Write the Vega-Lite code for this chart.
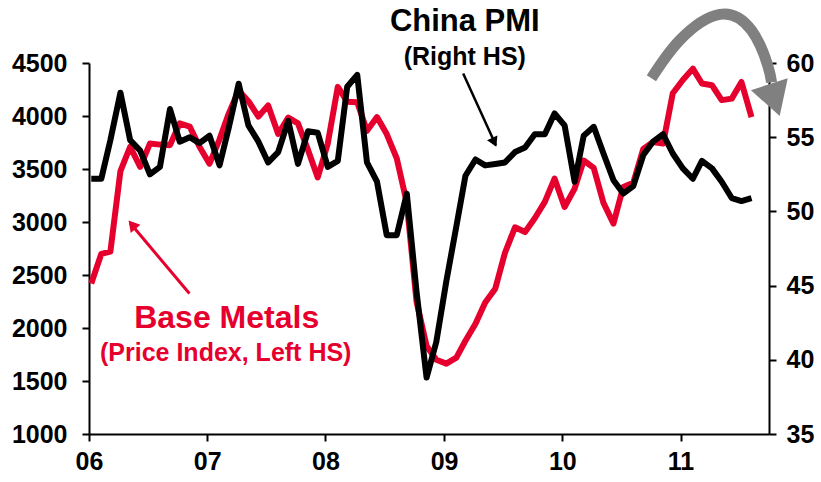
{
  "$schema": "https://vega.github.io/schema/vega-lite/v6.json",
  "width": 680,
  "height": 371,
  "autosize": {"type": "none"},
  "padding": {"left": 89, "top": 63, "right": 52, "bottom": 48},
  "background": "white",
  "config": {
    "view": {"stroke": null},
    "axis": {
      "grid": false,
      "labelFont": "Liberation Sans",
      "labelFontWeight": "bold",
      "labelFontSize": 25,
      "labelColor": "#000000",
      "domainColor": "#000000",
      "domainWidth": 2,
      "tickColor": "#000000",
      "tickWidth": 2,
      "tickSize": 7,
      "labelFlush": false,
      "title": null
    }
  },
  "datasets": {
    "series": [
      {"date": "2006-01-08", "metals": 2420, "pmi": 52.2},
      {"date": "2006-02-08", "metals": 2700, "pmi": 52.2},
      {"date": "2006-03-08", "metals": 2720, "pmi": 54.8},
      {"date": "2006-04-08", "metals": 3480, "pmi": 58.0},
      {"date": "2006-05-08", "metals": 3710, "pmi": 54.8},
      {"date": "2006-06-08", "metals": 3520, "pmi": 54.1},
      {"date": "2006-07-08", "metals": 3740, "pmi": 52.5},
      {"date": "2006-08-08", "metals": 3730, "pmi": 53.0},
      {"date": "2006-09-08", "metals": 3725, "pmi": 56.9},
      {"date": "2006-10-08", "metals": 3930, "pmi": 54.7},
      {"date": "2006-11-08", "metals": 3900, "pmi": 55.0},
      {"date": "2006-12-08", "metals": 3710, "pmi": 54.6},
      {"date": "2007-01-08", "metals": 3550, "pmi": 55.1},
      {"date": "2007-02-08", "metals": 3780, "pmi": 53.1},
      {"date": "2007-03-08", "metals": 4020, "pmi": 55.6},
      {"date": "2007-04-08", "metals": 4240, "pmi": 58.6},
      {"date": "2007-05-08", "metals": 4140, "pmi": 55.8},
      {"date": "2007-06-08", "metals": 3995, "pmi": 54.7},
      {"date": "2007-07-08", "metals": 4100, "pmi": 53.3},
      {"date": "2007-08-08", "metals": 3830, "pmi": 54.0},
      {"date": "2007-09-08", "metals": 3985, "pmi": 56.1},
      {"date": "2007-10-08", "metals": 3930, "pmi": 53.2},
      {"date": "2007-11-08", "metals": 3680, "pmi": 55.4},
      {"date": "2007-12-08", "metals": 3420, "pmi": 55.3},
      {"date": "2008-01-08", "metals": 3740, "pmi": 53.0},
      {"date": "2008-02-08", "metals": 4275, "pmi": 53.4},
      {"date": "2008-03-08", "metals": 4135, "pmi": 58.4},
      {"date": "2008-04-08", "metals": 4130, "pmi": 59.2},
      {"date": "2008-05-08", "metals": 3860, "pmi": 53.3},
      {"date": "2008-06-08", "metals": 3990, "pmi": 52.0},
      {"date": "2008-07-08", "metals": 3830, "pmi": 48.4},
      {"date": "2008-08-08", "metals": 3600, "pmi": 48.4},
      {"date": "2008-09-08", "metals": 3180, "pmi": 51.2},
      {"date": "2008-10-08", "metals": 2250, "pmi": 44.6},
      {"date": "2008-11-08", "metals": 1830, "pmi": 38.8},
      {"date": "2008-12-08", "metals": 1700, "pmi": 41.2},
      {"date": "2009-01-08", "metals": 1664, "pmi": 45.3},
      {"date": "2009-02-08", "metals": 1720, "pmi": 49.0},
      {"date": "2009-03-08", "metals": 1880, "pmi": 52.4},
      {"date": "2009-04-08", "metals": 2040, "pmi": 53.5},
      {"date": "2009-05-08", "metals": 2240, "pmi": 53.1},
      {"date": "2009-06-08", "metals": 2370, "pmi": 53.2},
      {"date": "2009-07-08", "metals": 2710, "pmi": 53.3},
      {"date": "2009-08-08", "metals": 2950, "pmi": 54.0},
      {"date": "2009-09-08", "metals": 2905, "pmi": 54.3},
      {"date": "2009-10-08", "metals": 3035, "pmi": 55.2},
      {"date": "2009-11-08", "metals": 3190, "pmi": 55.2},
      {"date": "2009-12-08", "metals": 3410, "pmi": 56.6},
      {"date": "2010-01-08", "metals": 3142, "pmi": 55.8},
      {"date": "2010-02-08", "metals": 3315, "pmi": 52.0},
      {"date": "2010-03-08", "metals": 3580, "pmi": 55.1},
      {"date": "2010-04-08", "metals": 3510, "pmi": 55.7},
      {"date": "2010-05-08", "metals": 3180, "pmi": 53.9},
      {"date": "2010-06-08", "metals": 2985, "pmi": 52.1},
      {"date": "2010-07-08", "metals": 3330, "pmi": 51.2},
      {"date": "2010-08-08", "metals": 3370, "pmi": 51.7},
      {"date": "2010-09-08", "metals": 3690, "pmi": 53.8},
      {"date": "2010-10-08", "metals": 3755, "pmi": 54.7},
      {"date": "2010-11-08", "metals": 3740, "pmi": 55.2},
      {"date": "2010-12-08", "metals": 4215, "pmi": 53.9},
      {"date": "2011-01-08", "metals": 4340, "pmi": 52.9},
      {"date": "2011-02-08", "metals": 4447, "pmi": 52.2},
      {"date": "2011-03-08", "metals": 4306, "pmi": 53.4},
      {"date": "2011-04-08", "metals": 4290, "pmi": 52.9},
      {"date": "2011-05-08", "metals": 4150, "pmi": 52.0},
      {"date": "2011-06-08", "metals": 4164, "pmi": 50.9},
      {"date": "2011-07-08", "metals": 4321, "pmi": 50.7},
      {"date": "2011-08-08", "metals": 3990, "pmi": 50.9}
    ],
    "arc": [
      {"date": "2010-10-03", "value": 4356},
      {"date": "2010-12-29", "value": 4714},
      {"date": "2011-05-02", "value": 4959},
      {"date": "2011-08-08", "value": 4808},
      {"date": "2011-09-27", "value": 4478},
      {"date": "2011-10-09", "value": 4317}
    ]
  },
  "resolve": {"scale": {"y": "independent"}},
  "layer": [
    {
      "data": {"name": "series"},
      "mark": {"type": "line", "color": "#E6002D", "strokeWidth": 6, "strokeJoin": "round"},
      "encoding": {
        "x": {
          "field": "date", "type": "temporal",
          "scale": {"type": "utc", "domain": [{"year": 2006, "month": 1, "date": 1, "utc": true}, {"year": 2011, "month": 10, "date": 1, "utc": true}]},
          "axis": {
            "values": [
              {"year": 2006, "month": 1, "date": 1, "utc": true},
              {"year": 2007, "month": 1, "date": 1, "utc": true},
              {"year": 2008, "month": 1, "date": 1, "utc": true},
              {"year": 2009, "month": 1, "date": 1, "utc": true},
              {"year": 2010, "month": 1, "date": 1, "utc": true},
              {"year": 2011, "month": 1, "date": 1, "utc": true}
            ],
            "labelExpr": "utcFormat(datum.value, '%y')", "labelPadding": 8
          }
        },
        "y": {
          "field": "metals", "type": "quantitative",
          "scale": {"domain": [1000, 4500], "nice": false, "zero": false},
          "axis": {"orient": "left", "values": [1000, 1500, 2000, 2500, 3000, 3500, 4000, 4500], "format": "d", "labelPadding": 15}
        }
      }
    },
    {
      "data": {"name": "series"},
      "mark": {"type": "line", "color": "#000000", "strokeWidth": 6, "strokeJoin": "round"},
      "encoding": {
        "x": {"field": "date", "type": "temporal"},
        "y": {
          "field": "pmi", "type": "quantitative",
          "scale": {"domain": [35, 60], "nice": false, "zero": false},
          "axis": {"orient": "right", "values": [35, 40, 45, 50, 55, 60], "format": "d", "labelPadding": 10}
        }
      }
    },
    {
      "data": {"values": [{"date": "2006-11-07", "value": 2325, "date2": "2006-05-08", "value2": 2990}]},
      "mark": {"type": "rule", "color": "#E6002D", "strokeWidth": 3},
      "encoding": {
        "x": {"field": "date", "type": "temporal"},
        "x2": {"field": "date2"},
        "y": {"field": "value", "type": "quantitative", "scale": {"domain": [1000, 4500], "nice": false, "zero": false}, "axis": null},
        "y2": {"field": "value2"}
      }
    },
    {
      "data": {"values": [{"date": "2006-05-14", "value": 2975}]},
      "mark": {"type": "point", "shape": "triangle-up", "filled": true, "color": "#E6002D", "size": 160, "angle": 320, "opacity": 1},
      "encoding": {
        "x": {"field": "date", "type": "temporal"},
        "y": {"field": "value", "type": "quantitative", "scale": {"domain": [1000, 4500], "nice": false, "zero": false}, "axis": null}
      }
    },
    {
      "data": {"values": [{"date": "2009-03-01", "value": 4400, "date2": "2009-06-10", "value2": 3725}]},
      "mark": {"type": "rule", "color": "#000000", "strokeWidth": 2.5},
      "encoding": {
        "x": {"field": "date", "type": "temporal"},
        "x2": {"field": "date2"},
        "y": {"field": "value", "type": "quantitative", "scale": {"domain": [1000, 4500], "nice": false, "zero": false}, "axis": null},
        "y2": {"field": "value2"}
      }
    },
    {
      "data": {"values": [{"date": "2009-06-05", "value": 3751}]},
      "mark": {"type": "point", "shape": "triangle-up", "filled": true, "color": "#000000", "size": 130, "angle": 155, "opacity": 1},
      "encoding": {
        "x": {"field": "date", "type": "temporal"},
        "y": {"field": "value", "type": "quantitative", "scale": {"domain": [1000, 4500], "nice": false, "zero": false}, "axis": null}
      }
    },
    {
      "data": {"name": "arc"},
      "mark": {"type": "line", "color": "#808080", "strokeWidth": 11, "interpolate": "natural", "clip": false},
      "encoding": {
        "x": {"field": "date", "type": "temporal"},
        "y": {"field": "value", "type": "quantitative", "scale": {"domain": [1000, 4500], "nice": false, "zero": false}, "axis": null}
      }
    },
    {
      "data": {"values": [{"date": "2011-10-18", "value": 4150}]},
      "mark": {"type": "point", "shape": "triangle-up", "filled": true, "color": "#808080", "size": 1500, "angle": 162, "opacity": 1, "clip": false},
      "encoding": {
        "x": {"field": "date", "type": "temporal"},
        "y": {"field": "value", "type": "quantitative", "scale": {"domain": [1000, 4500], "nice": false, "zero": false}, "axis": null}
      }
    },
    {
      "data": {"values": [{"date": "2009-03-06", "value": 4884, "label": "China PMI"}]},
      "mark": {"type": "text", "font": "Liberation Sans", "fontWeight": "bold", "fontSize": 31, "color": "#000000", "align": "center", "baseline": "middle", "clip": false},
      "encoding": {
        "x": {"field": "date", "type": "temporal"},
        "y": {"field": "value", "type": "quantitative", "scale": {"domain": [1000, 4500], "nice": false, "zero": false}, "axis": null},
        "text": {"field": "label"}
      }
    },
    {
      "data": {"values": [{"date": "2009-03-06", "value": 4554, "label": "(Right HS)"}]},
      "mark": {"type": "text", "font": "Liberation Sans", "fontWeight": "bold", "fontSize": 25, "color": "#000000", "align": "center", "baseline": "middle", "clip": false},
      "encoding": {
        "x": {"field": "date", "type": "temporal"},
        "y": {"field": "value", "type": "quantitative", "scale": {"domain": [1000, 4500], "nice": false, "zero": false}, "axis": null},
        "text": {"field": "label"}
      }
    },
    {
      "data": {"values": [{"date": "2007-03-02", "value": 2092, "label": "Base Metals"}]},
      "mark": {"type": "text", "font": "Liberation Sans", "fontWeight": "bold", "fontSize": 32, "color": "#E6002D", "align": "center", "baseline": "middle"},
      "encoding": {
        "x": {"field": "date", "type": "temporal"},
        "y": {"field": "value", "type": "quantitative", "scale": {"domain": [1000, 4500], "nice": false, "zero": false}, "axis": null},
        "text": {"field": "label"}
      }
    },
    {
      "data": {"values": [{"date": "2007-02-27", "value": 1761, "label": "(Price Index, Left HS)"}]},
      "mark": {"type": "text", "font": "Liberation Sans", "fontWeight": "bold", "fontSize": 25, "color": "#E6002D", "align": "center", "baseline": "middle"},
      "encoding": {
        "x": {"field": "date", "type": "temporal"},
        "y": {"field": "value", "type": "quantitative", "scale": {"domain": [1000, 4500], "nice": false, "zero": false}, "axis": null},
        "text": {"field": "label"}
      }
    }
  ]
}
